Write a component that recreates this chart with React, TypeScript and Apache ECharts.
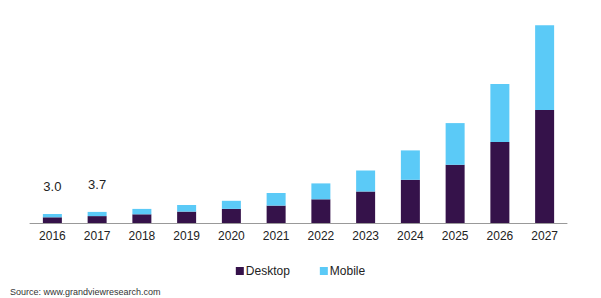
import React, { useEffect, useRef } from "react";
import * as echarts from "echarts";

const years = ["2016", "2017", "2018", "2019", "2020", "2021", "2022", "2023", "2024", "2025", "2026", "2027"];
const desktop = [1.9, 2.3, 2.9, 3.8, 4.7, 5.8, 7.9, 10.5, 14.4, 19.4, 27.0, 37.7];
const mobile = [1.1, 1.4, 1.8, 2.2, 2.7, 4.2, 5.3, 7.0, 9.8, 13.9, 19.3, 28.2];
const totalLabels = ["3.0", "3.7"];

const FONT = "'Liberation Sans', Arial, sans-serif";

export default function App() {
  const ref = useRef<HTMLDivElement>(null);
  useEffect(() => {
    if (!ref.current) return;
    const chart = echarts.init(ref.current, null, { renderer: "svg" });
    chart.setOption({
      animation: false,
      backgroundColor: "#ffffff",
      grid: { left: 30, right: 34, top: 13, bottom: 75 },
      xAxis: {
        type: "category",
        data: years,
        axisLine: { lineStyle: { color: "#999999", width: 1 } },
        axisTick: { show: false },
        axisLabel: { color: "#222222", fontSize: 12, fontFamily: FONT, margin: 7 },
      },
      yAxis: { type: "value", min: 0, max: 70, show: false, splitLine: { show: false } },
      legend: {
        data: ["Desktop", "Mobile"],
        left: "center",
        top: 260,
        icon: "rect",
        itemWidth: 8,
        itemHeight: 8,
        itemGap: 30,
        textStyle: { color: "#222222", fontSize: 12, fontFamily: FONT, padding: [0, 0, 0, -3] },
      },
      series: [
        {
          name: "Desktop",
          type: "bar",
          stack: "total",
          barWidth: 19,
          itemStyle: { color: "#35124a" },
          data: desktop,
        },
        {
          name: "Mobile",
          type: "bar",
          stack: "total",
          barWidth: 19,
          itemStyle: { color: "#5bcaf7" },
          data: mobile.map((v, i) =>
            i < totalLabels.length
              ? {
                  value: v,
                  label: {
                    show: true,
                    position: "top",
                    distance: 21,
                    formatter: totalLabels[i],
                    color: "#222222",
                    fontSize: 13,
                    fontFamily: FONT,
                  },
                }
              : v
          ),
        },
      ],
      graphic: [
        {
          type: "text",
          left: 10,
          top: 287,
          style: {
            text: "Source: www.grandviewresearch.com",
            fill: "#333333",
            fontSize: 9,
            fontFamily: FONT,
          },
        },
      ],
    });
    return () => chart.dispose();
  }, []);
  return <div ref={ref} style={{ width: 601, height: 298, position: "absolute", left: 0, top: 0 }} />;
}
